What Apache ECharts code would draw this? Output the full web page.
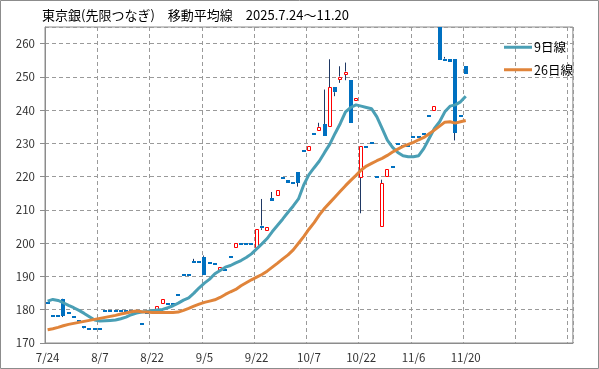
<!DOCTYPE html>
<html>
<head>
<meta charset="utf-8">
<script src="https://cdn.jsdelivr.net/npm/echarts@6/dist/echarts.min.js"></script>
<style>
html,body{margin:0;padding:0;background:#fff;}
#c{width:599px;height:369px;}
</style>
</head>
<body>
<div id="c"></div>
<script>
// Trading dates 2025.7.24 - 11.20
const dates = [
 '7/24','7/25','7/28','7/29','7/30','7/31','8/1','8/4','8/5','8/6',
 '8/7','8/8','8/12','8/13','8/14','8/15','8/18','8/19','8/20','8/21',
 '8/22','8/25','8/26','8/27','8/28','8/29','9/1','9/2','9/3','9/4',
 '9/5','9/8','9/9','9/10','9/11','9/12','9/16','9/17','9/18','9/19',
 '9/22','9/24','9/25','9/26','9/29','9/30','10/1','10/2','10/3','10/6',
 '10/7','10/8','10/9','10/10','10/14','10/15','10/16','10/17','10/20','10/21',
 '10/22','10/23','10/24','10/27','10/28','10/29','10/30','10/31','11/4','11/5',
 '11/6','11/7','11/10','11/11','11/12','11/13','11/14','11/17','11/18','11/19',
 '11/20'
];
const emptySlots = 20;

const opens = [
 182.4,178.5,178.5,183.2,179.3,178.0,177.0,175.2,174.6,174.6,
 174.6,180.0,180.0,180.0,180.0,180.0,179.8,179.6,176.1,179.4,
 179.6,180.2,182.1,182.0,182.0,184.6,190.6,190.6,194.6,194.6,
 195.9,194.5,194.2,192.0,192.2,196.2,199.0,200.2,200.2,200.2,
 199.0,205.3,203.9,213.5,214.6,219.8,219.0,218.3,221.3,228.1,
 227.9,233.2,233.9,235.7,235.1,246.9,249.5,251.0,249.2,243.2,
 219.8,229.3,230.5,220.3,205.2,220.3,223.3,230.1,229.6,229.5,
 232.3,232.3,233.0,238.4,240.0,269.0,255.5,255.3,255.3,238.4,
 253.2
];
const closes = [
 181.8,178.0,178.0,178.2,178.8,177.5,176.5,174.8,174.2,174.2,
 174.2,179.5,179.5,179.5,179.5,179.5,179.4,179.2,175.7,179.0,
 179.2,181.1,183.1,181.6,181.6,184.1,190.2,190.2,194.1,194.1,
 190.4,194.1,193.7,192.8,191.7,195.7,200.0,199.7,199.7,199.7,
 204.3,204.5,204.8,212.8,216.0,219.3,218.2,217.7,218.1,227.6,
 229.3,232.7,235.0,232.3,246.9,245.4,250.1,251.6,236.2,243.7,
 229.3,228.8,230.0,219.8,218.1,222.3,222.8,229.6,229.1,229.0,
 231.8,231.8,232.5,237.9,241.4,255.1,254.8,254.5,233.2,237.9,
 251.0
];
const lows = [
 181.8,178.0,178.0,177.8,178.8,177.5,176.5,174.4,174.2,174.2,
 174.2,179.5,179.5,179.5,179.5,179.5,179.4,179.2,175.7,179.0,
 179.2,180.2,182.1,181.6,181.6,184.1,190.2,190.2,194.1,194.1,
 190.4,194.1,193.7,192.0,191.7,195.7,199.0,199.7,199.7,199.7,
 199.0,204.0,203.9,212.8,214.6,219.3,218.2,217.7,217.0,227.6,
 227.9,232.7,233.9,232.3,235.1,244.2,248.2,249.0,236.2,243.2,
 209.0,228.8,230.0,219.8,205.2,220.3,222.8,229.6,229.1,229.0,
 231.8,231.8,232.5,237.9,240.0,255.1,254.8,254.5,230.9,237.9,
 251.0
];
const highs = [
 182.4,178.5,178.5,183.3,179.3,178.0,177.0,175.2,174.6,174.6,
 174.6,180.0,180.0,180.0,180.0,180.0,179.8,179.6,176.1,179.4,
 179.6,181.1,183.1,182.0,182.0,184.6,190.6,190.6,195.3,194.6,
 196.3,194.5,194.2,192.8,192.2,196.2,200.0,200.2,200.2,200.2,
 204.3,213.3,204.8,215.4,216.0,219.8,219.0,218.3,221.3,228.1,
 229.3,233.2,236.2,246.2,255.3,246.9,253.2,254.3,249.2,243.7,
 229.3,229.3,230.5,220.3,219.1,222.3,223.3,230.1,229.6,229.5,
 232.3,232.3,233.0,238.4,241.4,269.0,256.0,255.3,255.3,238.4,
 253.2
];
const ma9 = [
 182.6,183.1,182.8,182.1,181.3,180.6,179.8,178.9,177.9,176.9,
 176.6,176.7,176.8,176.9,177.3,177.8,178.5,179.0,179.3,179.5,
 179.7,179.9,180.1,180.6,181.2,182.0,182.9,183.6,185.0,186.6,
 188.0,189.2,190.8,191.8,192.8,193.3,194.1,194.8,195.7,196.8,
 198.3,199.8,201.4,203.5,205.4,207.3,209.3,211.2,213.3,217.5,
 220.6,222.7,224.7,227.3,229.8,233.0,236.0,239.5,240.8,241.6,
 241.2,240.8,240.4,238.0,234.5,231.0,228.8,227.3,226.3,226.0,
 226.0,226.3,228.5,231.5,234.5,236.5,239.5,241.2,241.6,242.5,
 244.2
];
const ma26 = [
 174.0,174.3,174.7,175.2,175.6,175.9,176.2,176.5,176.8,177.1,
 177.4,177.7,178.0,178.3,178.7,179.0,179.4,179.6,179.4,179.3,
 179.2,179.2,179.2,179.2,179.2,179.3,179.8,180.4,181.1,181.7,
 182.2,182.6,183.0,183.7,184.6,185.4,186.1,187.2,188.1,189.0,
 189.8,190.6,191.6,192.8,194.0,195.3,196.5,198.0,200.0,202.0,
 204.2,206.2,208.5,210.5,212.2,213.9,215.6,217.3,218.9,220.4,
 222.0,223.2,224.0,224.8,225.5,226.4,227.4,228.3,229.1,229.7,
 230.3,231.1,231.8,232.9,234.0,235.2,236.4,236.5,236.1,236.5,
 236.9
];
const yMin = 170, yMax = 265, yStep = 10;
const titleText = '東京銀(先限つなぎ)　移動平均線　2025.7.24～11.20';
const seriesNames = ['9日線', '26日線'];

const categories = dates.concat(new Array(emptySlots).fill('').map((s, k) => ' '.repeat(k + 1)));
const ohlc = dates.map((d, i) => [i, opens[i], closes[i], lows[i], highs[i]]);

const FONT = '"Noto Sans CJK JP", "Noto Sans", sans-serif';
const chart = echarts.init(document.getElementById('c'));
chart.setOption({
  animation: false,
  backgroundColor: '#fff',
  textStyle: { fontFamily: FONT },
  title: {
    text: titleText, left: 37, top: 4,
    textStyle: { fontSize: 13, fontWeight: 'normal', color: '#000', fontFamily: FONT }
  },
  legend: {
    orient: 'vertical', left: 499, top: 36, itemGap: 10,
    itemWidth: 28, itemHeight: 3, icon: 'rect',
    textStyle: { fontSize: 12.5, color: '#000', fontFamily: FONT, padding: [0, 0, 0, -3] },
    data: seriesNames
  },
  graphic: [{
    type: 'rect', silent: true, z: 100,
    shape: { x: 0.5, y: 0.5, width: 598, height: 368 },
    style: { fill: 'none', stroke: '#8c8c8c', lineWidth: 1 }
  }],
  grid: {
    left: 45, top: 27, right: 22, bottom: 26,
    show: true, borderColor: '#8c8c8c', borderWidth: 1, backgroundColor: 'transparent'
  },
  xAxis: {
    type: 'category', data: categories, boundaryGap: true,
    axisLine: { lineStyle: { color: '#8c8c8c' } },
    axisTick: { interval: 9, length: 5, lineStyle: { color: '#8c8c8c' } },
    axisLabel: { interval: 9, margin: 9, fontSize: 11.5, color: '#333', fontFamily: FONT },
    splitLine: { show: true, interval: 9, lineStyle: { color: '#9a9a9a', type: [4, 3] } }
  },
  yAxis: {
    type: 'value', min: yMin, max: yMax, interval: yStep,
    axisLine: { show: true, lineStyle: { color: '#8c8c8c' } },
    axisTick: { show: true, length: 5, lineStyle: { color: '#8c8c8c' } },
    axisLabel: { margin: 10, fontSize: 11.5, color: '#333', showMaxLabel: false, fontFamily: FONT },
    splitLine: { show: true, lineStyle: { color: '#9a9a9a', type: [4, 3] } }
  },
  series: [
    {
      type: 'custom', name: 'candles', clip: true, z: 2,
      data: ohlc,
      encode: { x: 0, y: [1, 2, 3, 4] },
      renderItem: function (params, api) {
        const i = api.value(0);
        const o = api.value(1), c = api.value(2), l = api.value(3), h = api.value(4);
        const cx = api.coord([i, o])[0];
        const yo = api.coord([i, o])[1], yc = api.coord([i, c])[1];
        const yl = api.coord([i, l])[1], yh = api.coord([i, h])[1];
        const up = c > o;
        const left = Math.round(cx - 2);
        const wx = left + 1.5;
        const top = Math.min(yo, yc), bot = Math.max(yo, yc);
        const children = [];
        children.push({ type: 'line', shape: { x1: wx, y1: yh, x2: wx, y2: top },
          style: { stroke: '#1f3864', lineWidth: 1 } });
        children.push({ type: 'line', shape: { x1: wx, y1: bot, x2: wx, y2: yl },
          style: { stroke: '#1f3864', lineWidth: 1 } });
        if (up) {
          let t = Math.round(top) + 0.5, b = Math.round(bot) + 0.5;
          if (b - t < 1) b = t + 1;
          children.push({ type: 'rect', shape: { x: left + 0.5, y: t, width: 3, height: b - t },
            style: { fill: '#fff', stroke: '#ff0000', lineWidth: 1 } });
        } else {
          let t = Math.round(top), b = Math.round(bot);
          if (b - t < 2) b = t + 2;
          children.push({ type: 'rect', shape: { x: left, y: t, width: 4, height: b - t },
            style: { fill: '#0070c0', stroke: null } });
        }
        return { type: 'group', children: children };
      }
    },
    {
      type: 'line', name: seriesNames[0], data: ma9, symbol: 'none', z: 3,
      lineStyle: { width: 3, color: '#4a9fb5' }, itemStyle: { color: '#4a9fb5' }
    },
    {
      type: 'line', name: seriesNames[1], data: ma26, symbol: 'none', z: 3,
      lineStyle: { width: 3, color: '#e0843a' }, itemStyle: { color: '#e0843a' }
    }
  ]
});
</script>
</body>
</html>
